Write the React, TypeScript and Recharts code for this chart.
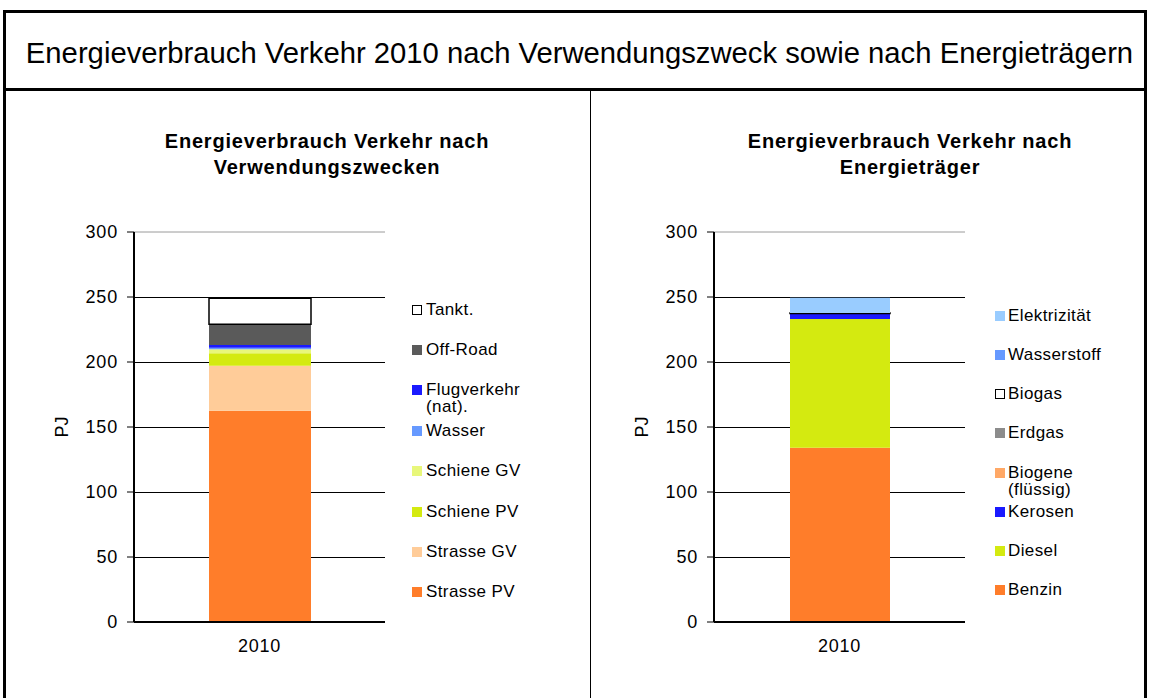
import React from 'react';
import { BarChart, Bar, XAxis, YAxis, CartesianGrid, ReferenceLine } from 'recharts';

const categories = ['2010'];
const yTicks = [0, 50, 100, 150, 200, 250, 300];
const gridValues = [50, 100, 150, 200, 250];

// bottom-up stacking order
const purposeNames = ['Strasse PV', 'Strasse GV', 'Schiene PV', 'Schiene GV', 'Wasser', 'Flugverkehr\n(nat).', 'Off-Road', 'Tankt.'];
const purposeValues = [162.5, 34.7, 9.5, 3.1, 1.2, 2.1, 15.9, 20.0];
const purposeColors = ['#FF7D2A', '#FFCC99', '#D4EA10', '#E8F77A', '#6699FF', '#1A1AFF', '#5A5A5A', '#FFFFFF'];
const purposeOutlined = [false, false, false, false, false, false, false, true];

const carrierNames = ['Benzin', 'Diesel', 'Kerosen', 'Biogene\n(flüssig)', 'Erdgas', 'Biogas', 'Wasserstoff', 'Elektrizität'];
const carrierValues = [134.1, 99.0, 3.8, 0.2, 0.3, 0.2, 0, 11.8];
const carrierColors = ['#FF7D2A', '#D4EA10', '#1A1AFF', '#FFA866', '#8C8C8C', '#FFFFFF', '#6699FF', '#99CCFF'];
const carrierOutlined = [false, false, false, false, false, true, false, false];

const FONT = '"Liberation Sans", Arial, Helvetica, sans-serif';

function buildData(values: number[]) {
  return categories.map((c) => {
    const row: Record<string, any> = { category: c };
    values.forEach((v, j) => {
      row['s' + j] = v;
    });
    return row;
  });
}

function PJLabel(props: any) {
  const vb = props.viewBox || { x: 0, y: 232, width: 0, height: 390 };
  const cx = 62;
  const cy = vb.y + vb.height / 2;
  return (
    <text x={cx} y={cy} transform={`rotate(-90 ${cx} ${cy})`} textAnchor="middle" dominantBaseline="central" fontSize={18} fontFamily={FONT} fill="#000">
      PJ
    </text>
  );
}

type ChartProps = {
  left: number;
  width: number;
  marginRight: number;
  names: string[];
  values: number[];
  colors: string[];
  outlined: boolean[];
  barSize: number;
};

function StackChart({ left, width, marginRight, names, values, colors, outlined, barSize }: ChartProps) {
  const data = buildData(values);
  return (
    <div style={{ position: 'absolute', left, top: 0 }}>
      <BarChart width={width} height={698} data={data} margin={{ top: 232, right: marginRight, bottom: 46, left: 34 }}>
        <CartesianGrid vertical={false} horizontalValues={gridValues} stroke="#000" strokeWidth={1} />
        <ReferenceLine y={300} stroke="#9a9a9a" strokeWidth={1} ifOverflow="visible" />
        <XAxis
          dataKey="category"
          height={30}
          tickLine={false}
          tickSize={6}
          tickMargin={11}
          axisLine={{ stroke: '#000', strokeWidth: 2 }}
          tick={{ fontSize: 18, fill: '#000', fontFamily: FONT, letterSpacing: 0.8 } as any}
        />
        <YAxis
          width={100}
          domain={[0, 300]}
          ticks={yTicks}
          interval={0}
          tickSize={7}
          tickMargin={9}
          axisLine={{ stroke: '#000', strokeWidth: 2 }}
          tickLine={{ stroke: '#000' }}
          tick={{ fontSize: 18, fill: '#000', fontFamily: FONT, letterSpacing: 0.8 } as any}
          label={{ content: PJLabel } as any}
        />
        {names.map((n, j) => (
          <Bar
            key={n}
            name={n}
            dataKey={'s' + j}
            stackId="a"
            fill={colors[j]}
            stroke={outlined[j] ? '#000' : 'none'}
            strokeWidth={outlined[j] ? 1.5 : 0}
            barSize={barSize}
            isAnimationActive={false}
          />
        ))}
      </BarChart>
    </div>
  );
}

type LegendProps = {
  names: string[];
  colors: string[];
  outlined: boolean[];
  markerX: number;
  textX: number;
  startY: number;
  step: number;
};

function LegendBlock({ names, colors, outlined, markerX, textX, startY, step }: LegendProps) {
  const items = names.map((n, j) => ({ n, c: colors[j], o: outlined[j] })).reverse();
  return (
    <>
      {items.map((it, i) => {
        const cy = startY + i * step;
        return (
          <React.Fragment key={it.n}>
            <div
              style={{
                position: 'absolute',
                left: markerX,
                top: cy - 5,
                width: 10,
                height: 10,
                boxSizing: 'border-box',
                background: it.c,
                border: it.o ? '1.5px solid #000' : 'none',
              }}
            />
            <div
              style={{
                position: 'absolute',
                left: textX,
                top: cy - 9,
                fontFamily: FONT,
                fontSize: 17,
                lineHeight: '17px',
                letterSpacing: 0.4,
                whiteSpace: 'pre',
                color: '#000',
              }}
            >
              {it.n}
            </div>
          </React.Fragment>
        );
      })}
    </>
  );
}

export default function App() {
  return (
    <div style={{ position: 'absolute', left: 0, top: 0, width: 1149, height: 698, overflow: 'hidden', background: '#fff' }}>
      <style>{`.recharts-cartesian-grid line { shape-rendering: crispEdges; }`}</style>
      {/* frame */}
      <div style={{ position: 'absolute', left: 3, top: 10, width: 1144, height: 720, border: '3px solid #000', boxSizing: 'border-box' }} />
      <div style={{ position: 'absolute', left: 3, top: 88, width: 1144, height: 3, background: '#000' }} />
      <div style={{ position: 'absolute', left: 590, top: 91, width: 1, height: 620, background: '#000' }} />

      {/* main title */}
      <div
        style={{
          position: 'absolute',
          left: 0,
          width: 1159,
          top: 33,
          textAlign: 'center',
          fontFamily: FONT,
          fontSize: 30,
          lineHeight: '40px',
          color: '#000',
          whiteSpace: 'nowrap',
          transform: 'scaleX(0.975)',
          transformOrigin: '579.5px 50%',
        }}
      >
        Energieverbrauch Verkehr 2010 nach Verwendungszweck sowie nach Energieträgern
      </div>

      {/* sub titles */}
      <div style={{ position: 'absolute', left: 127, width: 400, top: 128, textAlign: 'center', fontFamily: FONT, fontWeight: 'bold', fontSize: 20, lineHeight: '26px', letterSpacing: 0.8, color: '#000' }}>
        Energieverbrauch Verkehr nach
        <br />
        Verwendungszwecken
      </div>
      <div style={{ position: 'absolute', left: 710, width: 400, top: 128, textAlign: 'center', fontFamily: FONT, fontWeight: 'bold', fontSize: 20, lineHeight: '26px', letterSpacing: 0.8, color: '#000' }}>
        Energieverbrauch Verkehr nach
        <br />
        Energieträger
      </div>

      <StackChart left={0} width={590} marginRight={205} names={purposeNames} values={purposeValues} colors={purposeColors} outlined={purposeOutlined} barSize={102} />
      <StackChart left={580} width={569} marginRight={184} names={carrierNames} values={carrierValues} colors={carrierColors} outlined={carrierOutlined} barSize={100} />

      <LegendBlock names={purposeNames} colors={purposeColors} outlined={purposeOutlined} markerX={412} textX={426} startY={309.5} step={40.4} />
      <LegendBlock names={carrierNames} colors={carrierColors} outlined={carrierOutlined} markerX={995} textX={1008} startY={315.7} step={39.2} />
    </div>
  );
}
